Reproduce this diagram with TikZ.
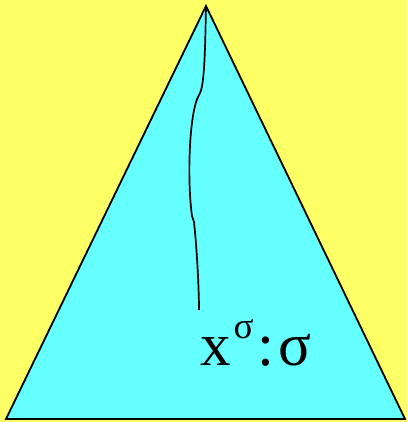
\documentclass[tikz,border=0pt]{standalone}
\usepackage{fontspec}
\setmainfont{Liberation Serif}
\definecolor{bgyellow}{HTML}{FFFF66}
\definecolor{tricyan}{HTML}{66FFFF}
\tikzset{
  tri/.style={fill=tricyan, draw=black, line width=1.8pt, line join=miter},
  curveline/.style={draw=black, line width=1.7pt},
  lbl/.style={font=\fontsize{61}{61}\selectfont, inner sep=0pt, anchor=base west}
}
\begin{document}
\begin{tikzpicture}[x=1pt,y=-1pt]
\fill[bgyellow] (0,0) rectangle (407,422);
\useasboundingbox (0,0) rectangle (407,422);
\coordinate (apex) at (206,6);
\coordinate (bl) at (6,419);
\coordinate (br) at (405,419);
\draw[tri] (apex) -- (bl) -- (br) -- cycle;
\coordinate (c1) at (199,95);
\coordinate (c2) at (192,216);
\coordinate (c3) at (194,222);
\coordinate (cend) at (199,310);
\draw[curveline] (apex) .. controls (205,60) and (204,88) .. (c1)
  .. controls (189,112) and (187,180) .. (c2) -- (c3)
  .. controls (197,250) and (199,290) .. (cend);
\node[lbl] (label) at (200,365) {x\kern3pt\raisebox{27pt}{\fontsize{37}{37}\selectfont σ}\kern4pt:\kern4ptσ};
\end{tikzpicture}
\end{document}
